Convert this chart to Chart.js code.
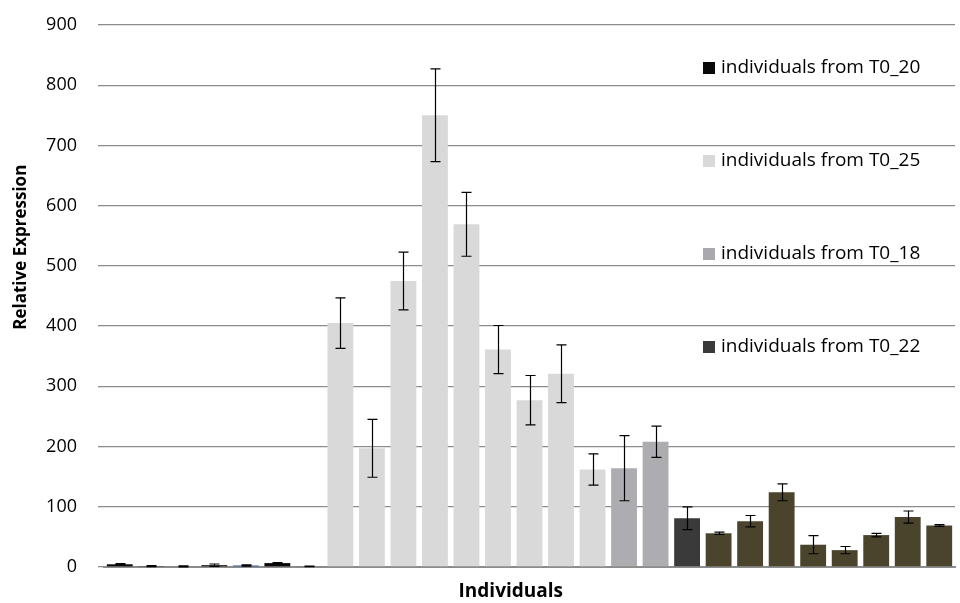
<!DOCTYPE html>
<html>
<head>
<meta charset="utf-8">
<script src="https://cdn.jsdelivr.net/npm/chart.js@4/dist/chart.umd.min.js"></script>
<style>
  html, body { margin: 0; padding: 0; background: #ffffff; }
  #wrap { width: 960px; height: 603px; position: relative; }
</style>
</head>
<body>
<div id="wrap"><canvas id="c" width="960" height="603"></canvas></div>
<script>
// ---- data ----
const groupNames = ['individuals from T0_20', 'individuals from T0_25', 'individuals from T0_18', 'individuals from T0_22'];

const t020Values = [4.5, 1.5, 1, 3, 2.5, 6.5, 1];
const t020Errors = [1, 1, 1, 2, 1, 1, 0.5];

const t025Values = [405, 197, 475, 750, 569, 361, 277, 321, 162];
const t025Errors = [42, 48, 48, 77, 53, 40, 41, 48, 26];

const t018Values = [164, 208];
const t018Errors = [54, 26];

const t022Values = [81, 56, 76, 124, 37, 28, 53, 83, 69];
const t022Errors = [19, 2, 9.5, 14, 15, 6, 3, 10, 1.5];

const yTicks = [0, 100, 200, 300, 400, 500, 600, 700, 800, 900];
const yTitle = 'Relative Expression';
const xTitle = 'Individuals';

// colours
const t020Colors = ['#0a0a0a', '#0a0a0a', '#3a3a3a', '#0a0a0a', '#2f5597', '#0a0a0a', '#0a0a0a'];
const t025Color = '#d9d9d9';
const t018Color = '#adadb1';
const t022Colors = ['#3a3a3a', '#4a442d', '#4a442d', '#4a442d', '#4a442d', '#4a442d', '#4a442d', '#4a442d', '#4a442d'];
const legendColors = ['#0a0a0a', '#d9d9d9', '#a9a9ad', '#3a3a3a'];

// ---- build category list and padded datasets ----
const groups = [
  { values: t020Values, errors: t020Errors, color: t020Colors },
  { values: t025Values, errors: t025Errors, color: t025Color },
  { values: t018Values, errors: t018Errors, color: t018Color },
  { values: t022Values, errors: t022Errors, color: t022Colors }
];
const total = groups.reduce((s, g) => s + g.values.length, 0);
const categories = Array.from({ length: total }, (_, i) => String(i + 1));

let offset = 0;
const datasets = groups.map((g, gi) => {
  const data = new Array(total).fill(null);
  const errs = new Array(total).fill(null);
  g.values.forEach((v, i) => { data[offset + i] = v; errs[offset + i] = g.errors[i]; });
  let bg;
  if (Array.isArray(g.color)) {
    bg = new Array(total).fill('#000');
    g.color.forEach((c, i) => { bg[offset + i] = c; });
  } else {
    bg = g.color;
  }
  offset += g.values.length;
  return {
    label: groupNames[gi],
    data: data,
    errors: errs,
    backgroundColor: bg,
    borderWidth: 0,
    barPercentage: 0.82,
    categoryPercentage: 1.0
  };
});

// ---- error bars plugin ----
const errorBars = {
  id: 'errorBars',
  afterDatasetsDraw(chart) {
    const ctx = chart.ctx;
    const yScale = chart.scales.y;
    ctx.save();
    ctx.strokeStyle = '#000000';
    ctx.lineWidth = 1.2;
    chart.data.datasets.forEach((ds, di) => {
      const meta = chart.getDatasetMeta(di);
      meta.data.forEach((el, i) => {
        const v = ds.data[i];
        const e = ds.errors[i];
        if (v === null || e === null) return;
        const x = Math.round(el.x) + 0.5;
        const yT = yScale.getPixelForValue(v + e);
        const yB = yScale.getPixelForValue(Math.max(0, v - e));
        const cap = 5;
        ctx.beginPath();
        ctx.moveTo(x, yT); ctx.lineTo(x, yB);
        ctx.moveTo(x - cap, yT); ctx.lineTo(x + cap, yT);
        ctx.moveTo(x - cap, yB); ctx.lineTo(x + cap, yB);
        ctx.stroke();
      });
    });
    ctx.restore();
  }
};

// ---- overlay legend + axis titles plugin ----
const overlayLegend = {
  id: 'overlayLegend',
  afterDraw(chart) {
    const ctx = chart.ctx;
    const area = chart.chartArea;
    ctx.save();
    ctx.font = '19px "Open Sans"';
    ctx.textBaseline = 'middle';
    ctx.textAlign = 'left';
    const x0 = area.right - 252;
    const firstY = area.top + 43;
    const step = 93;
    chart.data.datasets.forEach((ds, i) => {
      const y = firstY + i * step;
      ctx.fillStyle = legendColors[i];
      ctx.fillRect(x0, y - 6, 12, 12);
      ctx.fillStyle = '#000000';
      ctx.fillText(ds.label, x0 + 18, y);
    });
    // x-axis title
    ctx.textAlign = 'center';
    ctx.font = 'bold 19px "Open Sans"';
    ctx.fillText(xTitle, area.left + (area.right - area.left) * 0.478, area.bottom + 25);
    // y-axis title (placed as in the reference, above the plot's mid-height)
    ctx.translate(21, area.top + (area.bottom - area.top) * 0.41);
    ctx.rotate(-Math.PI / 2);
    ctx.font = 'bold 17px "Open Sans"';
    ctx.fillText(yTitle, 0, 0);
    ctx.restore();
  }
};

new Chart(document.getElementById('c'), {
  type: 'bar',
  data: { labels: categories, datasets: datasets },
  plugins: [errorBars, overlayLegend],
  options: {
    responsive: false,
    animation: false,
    layout: { padding: { left: 0, right: 5, top: 25, bottom: 0 } },
    plugins: {
      legend: { display: false },
      tooltip: { enabled: false }
    },
    scales: {
      x: {
        stacked: true,
        afterFit(scale) { scale.height = 36; scale.paddingLeft = 0; scale.paddingRight = 0; },
        grid: { display: false, drawTicks: false },
        border: { display: true, color: '#8c8c8c', width: 2 },
        ticks: { display: false },
        title: { display: false }
      },
      y: {
        min: 0,
        max: 900,
        afterBuildTicks(scale) { scale.ticks = yTicks.map(v => ({ value: v })); },
        afterFit(scale) { scale.width = 104; scale.paddingTop = 0; scale.paddingBottom = 0; },
        grid: { color: '#8c8c8c', lineWidth: 1.3, drawTicks: true, tickLength: 6 },
        border: { display: false },
        ticks: {
          font: { family: 'Open Sans', size: 18 },
          color: '#000000',
          padding: 21
        },
        title: { display: false }
      }
    }
  }
});
</script>
</body>
</html>
